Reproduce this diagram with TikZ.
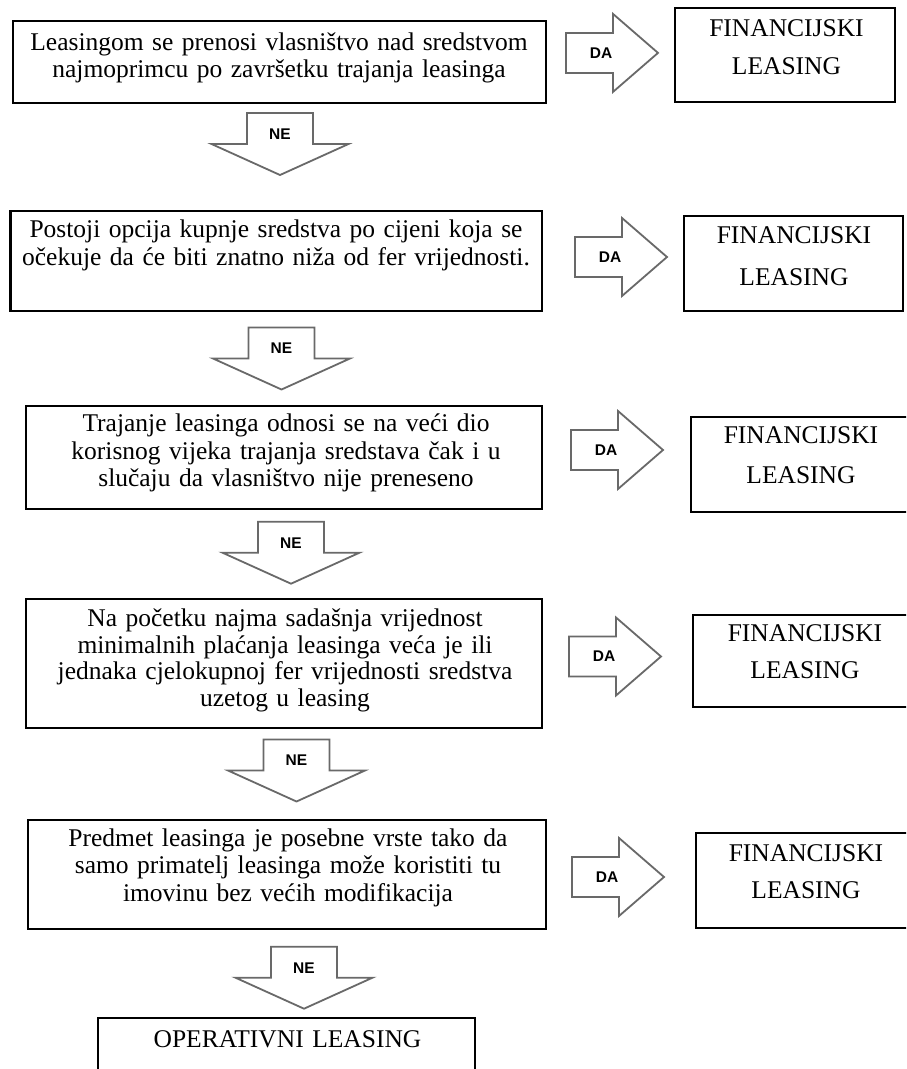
\documentclass[tikz,border=0pt]{standalone}
\usepackage{fontspec}
\setmainfont{Liberation Serif}
\newfontfamily\lblfont{Liberation Sans}
\definecolor{arrowgray}{RGB}{105,105,105}
\tikzset{
  qbox/.style={draw=black, line width=2.3pt, rectangle, inner sep=0pt},
  qtext/.style={inner sep=0pt, anchor=base, align=center, text width=540pt, font=\fontsize{25.5}{27.5}\selectfont},
  rtext/.style={inner sep=0pt, anchor=base, align=center, text width=215pt, font=\fontsize{25.5}{27.5}\selectfont},
  arr/.style={draw=arrowgray, line width=1.8pt, fill=white, line join=miter},
  albl/.style={font=\lblfont\bfseries\fontsize{15.5}{15.5}\selectfont, inner sep=0pt},
  daarrow/.pic={\draw[arr] (0,-20) -- (47,-20) -- (47,-39) -- (92,0) -- (47,39) -- (47,20) -- (0,20) -- cycle;
                \node[albl] (-lbl) at (35,0) {DA};},
  nearrow/.pic={\draw[arr] (-33,0) -- (33,0) -- (33,31) -- (68.5,31) -- (0,62) -- (-68.5,31) -- (-33,31) -- cycle;
                \node[albl] (-lbl) at (0,21) {NE};},
}
\begin{document}
\begin{tikzpicture}[x=1pt, y=-1pt]
\clip (0,0) rectangle (906,1069);
\fill[white] (0,0) rectangle (906,1069);

% left question boxes
\node[qbox, minimum width=533pt, minimum height=82pt] (q1) at (279.2,62) {};
\node[qtext] (t1) at (279,50) {Leasingom se prenosi vlasništvo nad sredstvom\\najmoprimcu po završetku trajanja leasinga};

\node[qbox, minimum width=531.6pt, minimum height=100pt] (q2) at (276.2,261) {};
\node[qtext] (t2) at (276,237.7) {Postoji opcija kupnje sredstva po cijeni koja se\\[0.5pt]očekuje da će biti znatno niža od fer vrijednosti.};

\node[qbox, minimum width=516pt, minimum height=103pt] (q3) at (284,457.5) {};
\node[qtext] (t3) at (286,431.5) {Trajanje leasinga odnosi se na veći dio\\korisnog vijeka trajanja sredstava čak i u\\slučaju da vlasništvo nije preneseno};

\node[qbox, minimum width=516pt, minimum height=129pt] (q4) at (284,663.5) {};
\node[qtext] (t4) at (285,626.7) {Na početku najma sadašnja vrijednost\\[-1pt]minimalnih plaćanja leasinga veća je ili\\[-1pt]jednaka cjelokupnoj fer vrijednosti sredstva\\[-1pt]uzetog u leasing};

\node[qbox, minimum width=518.3pt, minimum height=109pt] (q5) at (286.9,874.5) {};
\node[qtext] (t5) at (288,846) {Predmet leasinga je posebne vrste tako da\\samo primatelj leasinga može koristiti tu\\imovinu bez većih modifikacija};

\node[qbox, minimum width=377pt, minimum height=77pt] (q6) at (286.5,1056.5) {};
\node[qtext] (t6) at (287.5,1047.3) {OPERATIVNI LEASING};

% right result boxes
\node[qbox, minimum width=220pt, minimum height=94pt] (r1) at (785,55) {};
\node[rtext] (s1) at (786.5,36.7) {FINANCIJSKI\\[9.8pt]LEASING};

\node[qbox, minimum width=219pt, minimum height=95pt] (r2) at (793.5,263.5) {};
\node[rtext] (s2) at (794,243.3) {FINANCIJSKI\\[14.2pt]LEASING};

\node[qbox, minimum width=220pt, minimum height=95pt] (r3) at (801,464.5) {};
\node[rtext] (s3) at (801,443.3) {FINANCIJSKI\\[12.5pt]LEASING};

\node[qbox, minimum width=224pt, minimum height=92pt] (r4) at (805,661) {};
\node[rtext] (s4) at (805,641.7) {FINANCIJSKI\\[9pt]LEASING};

\node[qbox, minimum width=220pt, minimum height=95pt] (r5) at (806,880.5) {};
\node[rtext] (s5) at (806,861.7) {FINANCIJSKI\\[9pt]LEASING};

% DA arrows
\pic (da1) at (566,52.9) {daarrow};
\pic (da2) at (575,257) {daarrow};
\pic (da3) at (571,450) {daarrow};
\pic (da4) at (569,656.5) {daarrow};
\pic (da5) at (572,877) {daarrow};

% NE arrows
\pic (ne1) at (280,113) {nearrow};
\pic (ne2) at (281.5,327.5) {nearrow};
\pic (ne3) at (291,521.7) {nearrow};
\pic (ne4) at (296.5,739.5) {nearrow};
\pic (ne5) at (304,946.7) {nearrow};
\end{tikzpicture}
\end{document}
